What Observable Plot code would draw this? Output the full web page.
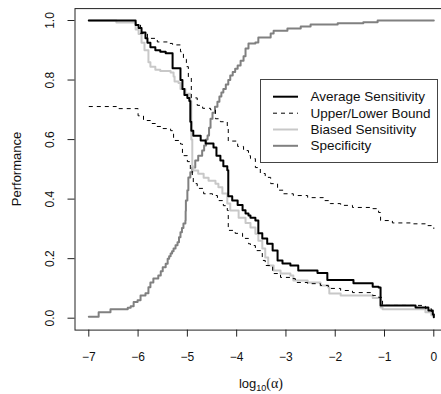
<!DOCTYPE html>
<html>
<head>
<meta charset="utf-8">
<script src="https://cdn.jsdelivr.net/npm/d3@7"></script>
<script src="https://cdn.jsdelivr.net/npm/@observablehq/plot@0.6"></script>
<style>
  html, body { margin: 0; padding: 0; background: white; }
  #wrap { width: 441px; height: 394px; overflow: hidden; }
  #wrap svg { overflow: hidden; }
</style>
</head>
<body>
<div id="wrap"></div>
<script>
// ---- data (log10(alpha), performance) ----
const xTicks = [-7, -6, -5, -4, -3, -2, -1, 0];
const yTicks = [0, 0.2, 0.4, 0.6, 0.8, 1.0];
const yTickLabels = ["0.0", "0.2", "0.4", "0.6", "0.8", "1.0"];
const legendLabels = ["Average Sensitivity", "Upper/Lower Bound", "Biased Sensitivity", "Specificity"];

const avgSens = [[-7,1.0],[-6.05,0.985],[-5.99,0.975],[-5.93,0.96],[-5.85,0.94],[-5.81,0.925],[-5.75,0.91],[-5.65,0.90],[-5.55,0.895],[-5.44,0.89],[-5.30,0.84],[-5.14,0.80],[-5.10,0.77],[-5.06,0.75],[-5.00,0.74],[-4.96,0.73],[-4.94,0.66],[-4.92,0.63],[-4.88,0.613],[-4.73,0.597],[-4.63,0.587],[-4.47,0.573],[-4.41,0.546],[-4.33,0.53],[-4.27,0.51],[-4.19,0.497],[-4.17,0.41],[-4.09,0.395],[-3.98,0.38],[-3.88,0.363],[-3.82,0.352],[-3.76,0.345],[-3.72,0.337],[-3.62,0.328],[-3.56,0.285],[-3.48,0.268],[-3.38,0.25],[-3.27,0.227],[-3.17,0.194],[-3.07,0.184],[-2.91,0.177],[-2.75,0.160],[-2.36,0.152],[-2.16,0.128],[-1.63,0.117],[-1.24,0.106],[-1.12,0.103],[-1.08,0.043],[-0.37,0.036],[-0.11,0.026],[-0.02,0.012],[0,0.003]];

const upperBound = [[-7,1.0],[-6.05,0.985],[-5.95,0.956],[-5.81,0.94],[-5.61,0.928],[-5.38,0.923],[-5.30,0.918],[-5.14,0.895],[-5.08,0.87],[-5.02,0.845],[-4.98,0.81],[-4.92,0.74],[-4.80,0.715],[-4.69,0.705],[-4.53,0.70],[-4.43,0.67],[-4.33,0.66],[-4.19,0.645],[-4.17,0.595],[-3.98,0.577],[-3.86,0.563],[-3.76,0.546],[-3.72,0.536],[-3.62,0.506],[-3.52,0.486],[-3.42,0.473],[-3.31,0.452],[-3.17,0.43],[-3.05,0.418],[-2.85,0.412],[-2.56,0.405],[-2.24,0.395],[-2.10,0.385],[-1.89,0.379],[-1.65,0.372],[-1.24,0.368],[-1.12,0.355],[-1.08,0.328],[-0.84,0.32],[-0.43,0.317],[-0.17,0.311],[-0.05,0.305],[0,0.30]];

const lowerBound = [[-7,0.711],[-6.44,0.704],[-6.00,0.68],[-5.89,0.664],[-5.75,0.654],[-5.65,0.644],[-5.50,0.637],[-5.34,0.63],[-5.28,0.597],[-5.14,0.585],[-5.10,0.546],[-5.00,0.526],[-4.94,0.50],[-4.90,0.473],[-4.88,0.452],[-4.80,0.436],[-4.67,0.418],[-4.49,0.412],[-4.39,0.395],[-4.27,0.378],[-4.19,0.362],[-4.17,0.295],[-4.03,0.285],[-3.88,0.268],[-3.76,0.25],[-3.72,0.244],[-3.62,0.227],[-3.48,0.194],[-3.42,0.177],[-3.27,0.15],[-3.11,0.137],[-2.91,0.133],[-2.81,0.12],[-2.56,0.116],[-2.30,0.11],[-2.14,0.10],[-1.89,0.093],[-1.65,0.086],[-1.24,0.076],[-1.12,0.07],[-1.04,0.043],[-0.17,0.032],[-0.05,0.02],[0,0.01]];

const biasedSens = [[-7,1.0],[-6.44,0.993],[-6.05,0.97],[-5.99,0.955],[-5.93,0.925],[-5.87,0.90],[-5.79,0.86],[-5.75,0.845],[-5.65,0.835],[-5.55,0.83],[-5.34,0.825],[-5.28,0.812],[-5.26,0.795],[-5.18,0.79],[-5.14,0.77],[-5.04,0.754],[-4.94,0.73],[-4.92,0.60],[-4.90,0.51],[-4.88,0.496],[-4.78,0.485],[-4.67,0.472],[-4.57,0.462],[-4.43,0.452],[-4.37,0.44],[-4.29,0.419],[-4.19,0.385],[-4.13,0.362],[-3.96,0.337],[-3.82,0.32],[-3.72,0.305],[-3.62,0.284],[-3.56,0.26],[-3.48,0.234],[-3.42,0.204],[-3.36,0.177],[-3.25,0.16],[-3.11,0.15],[-2.91,0.143],[-2.85,0.127],[-2.56,0.12],[-2.30,0.11],[-2.14,0.103],[-2.12,0.083],[-1.89,0.076],[-1.24,0.068],[-1.08,0.036],[-1.04,0.03],[-0.17,0.02],[-0.05,0.01],[0,0.003]];

const specificity = [[-7,0.005],[-6.80,0.02],[-6.56,0.03],[-6.21,0.035],[-6.15,0.04],[-6.09,0.054],[-6.01,0.06],[-5.95,0.076],[-5.85,0.084],[-5.79,0.104],[-5.75,0.12],[-5.69,0.133],[-5.59,0.143],[-5.54,0.158],[-5.50,0.171],[-5.44,0.183],[-5.40,0.2],[-5.37,0.208],[-5.34,0.217],[-5.31,0.225],[-5.28,0.234],[-5.24,0.245],[-5.20,0.255],[-5.17,0.272],[-5.14,0.289],[-5.11,0.303],[-5.08,0.318],[-5.04,0.328],[-5.035,0.36],[-5.03,0.395],[-5.00,0.43],[-4.98,0.473],[-4.94,0.49],[-4.90,0.506],[-4.84,0.53],[-4.78,0.546],[-4.70,0.563],[-4.66,0.58],[-4.62,0.60],[-4.59,0.614],[-4.56,0.64],[-4.53,0.67],[-4.49,0.69],[-4.44,0.71],[-4.39,0.727],[-4.35,0.745],[-4.31,0.758],[-4.27,0.77],[-4.22,0.785],[-4.17,0.80],[-4.13,0.815],[-4.08,0.827],[-4.03,0.838],[-3.98,0.849],[-3.92,0.865],[-3.86,0.88],[-3.82,0.906],[-3.76,0.923],[-3.62,0.926],[-3.56,0.943],[-3.31,0.956],[-3.25,0.966],[-2.97,0.973],[-2.70,0.98],[-2.50,0.987],[-1.95,0.991],[-1.43,0.994],[-1.14,1.0],[0,1.0]];

// ---- styles ----
const FONT = "'Liberation Sans', Arial, Helvetica, sans-serif";
const C_AVG = "#000000", C_BIAS = "#c8c8c8", C_SPEC = "#808080", C_BOUND = "#000000";

const lineOpts = (stroke, sw, dash) => ({
  x: d => d[0], y: d => d[1], curve: "step-after",
  stroke, strokeWidth: sw,
  strokeDasharray: dash, strokeLinecap: dash ? "butt" : "round", strokeLinejoin: "round"
});

const chart = Plot.plot({
  width: 441,
  height: 394,
  marginLeft: 74.5,
  marginRight: -6.1,
  marginTop: 8.1,
  marginBottom: 64.4,
  style: { fontFamily: FONT, fontSize: "12px", background: "white", overflow: "hidden" },
  x: { domain: [-7.28, 0.28] },
  y: { domain: [-0.04, 1.04] },
  marks: [
    Plot.line(specificity, lineOpts(C_SPEC, 2)),
    Plot.line(biasedSens, lineOpts(C_BIAS, 2)),
    Plot.line(upperBound, lineOpts(C_BOUND, 1, "4,4")),
    Plot.line(lowerBound, lineOpts(C_BOUND, 1, "4,4")),
    Plot.line(avgSens, lineOpts(C_AVG, 2)),
    Plot.frame({ stroke: "#222", strokeWidth: 1 }),
    Plot.axisX({ ticks: xTicks, tickSize: 7, tickPadding: 15, fontSize: 12, label: null, stroke: "#222", fill: "#111" }),
    Plot.axisY({ ticks: yTicks, tickSize: 7, tickFormat: () => "", label: null, stroke: "#222" }),
    Plot.text(yTicks, { y: d => d, text: (d, i) => yTickLabels[i], frameAnchor: "left", dx: -25, rotate: -90,
      textAnchor: "middle", lineAnchor: "middle", fontSize: 12, fill: "#111" })
  ]
});

document.getElementById("wrap").appendChild(chart);

// ---- axis titles and legend ----
const svg = d3.select(chart);
svg.append("text")
  .attr("transform", "translate(16,169) rotate(-90)")
  .attr("text-anchor", "middle")
  .attr("dominant-baseline", "central")
  .style("font-family", FONT).style("font-size", "13px").attr("fill", "#111")
  .text("Performance");

const xl = svg.append("text")
  .attr("x", 261).attr("y", 388)
  .attr("text-anchor", "middle")
  .style("font-family", FONT).style("font-size", "13px").attr("fill", "#111");
xl.append("tspan").text("log");
xl.append("tspan").attr("dy", 3).style("font-size", "9px").text("10");
xl.append("tspan").attr("dy", -3).style("font-family", "'Liberation Serif', 'DejaVu Serif', serif").style("font-size", "14px").text("(α)");

const lg = svg.append("g");
lg.append("rect").attr("x", 260.5).attr("y", 79.5).attr("width", 177).attr("height", 83)
  .attr("fill", "white").attr("stroke", "#444").attr("stroke-width", 1);
const legendStyles = [
  { stroke: C_AVG, w: 2, dash: null },
  { stroke: C_BOUND, w: 1, dash: "4,4" },
  { stroke: C_BIAS, w: 2, dash: null },
  { stroke: C_SPEC, w: 2, dash: null }
];
const rowY = [96.7, 113.2, 129.5, 145.8];
legendLabels.forEach((lab, i) => {
  const s = legendStyles[i];
  const ln = lg.append("line").attr("x1", 273).attr("x2", 298).attr("y1", rowY[i]).attr("y2", rowY[i])
    .attr("stroke", s.stroke).attr("stroke-width", s.w);
  if (s.dash) ln.attr("stroke-dasharray", s.dash);
  lg.append("text").attr("x", 310.5).attr("y", rowY[i]).attr("dominant-baseline", "central")
    .attr("text-anchor", "start")
    .style("font-family", FONT).style("font-size", "13.5px").attr("fill", "#111").text(lab);
});
</script>
</body>
</html>
